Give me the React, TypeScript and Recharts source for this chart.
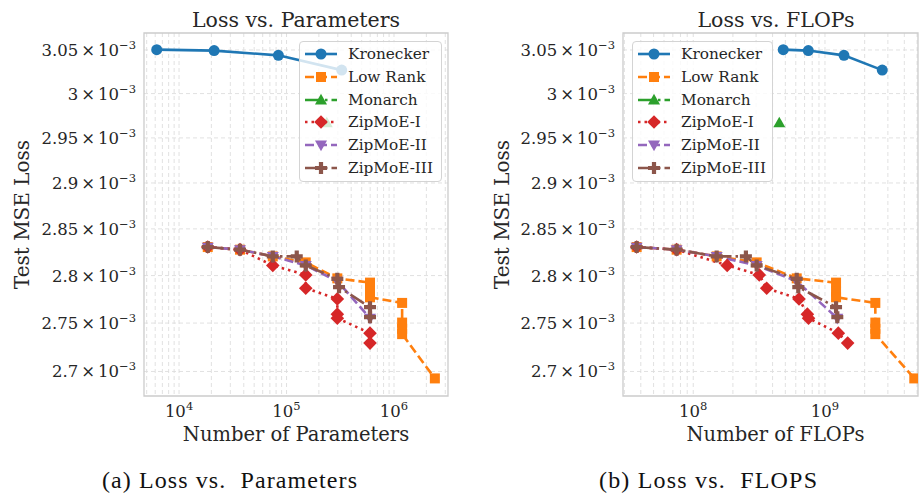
import React from 'react'
import { LineChart, Line, XAxis, YAxis, CartesianGrid, ReferenceArea, Label } from 'recharts'

// values (loss in absolute units, x in params / FLOPs)
const kroneckerParams = [6.2e3, 2.12e4, 8.4e4, 3.26e5]
const kroneckerFlops = [4.82e8, 7.47e8, 1.393e9, 2.72e9]
const kroneckerLoss = [3.0504e-3, 3.0493e-3, 3.0438e-3, 3.0268e-3]

const lowRankParams = [1.85e4, 3.69e4, 7.45e4, 1.51e5, 2.97e5, 5.98e5, 5.98e5, 5.98e5, 1.19e6, 1.19e6, 1.19e6, 1.19e6, 2.4e6]
const lowRankFlops = [3.72e7, 7.48e7, 1.506e8, 3.03e8, 6.1e8, 1.213e9, 1.213e9, 1.213e9, 2.41e9, 2.41e9, 2.41e9, 2.41e9, 4.76e9]
const lowRankLoss = [2.8304e-3, 2.8276e-3, 2.8204e-3, 2.814e-3, 2.797e-3, 2.7925e-3, 2.783e-3, 2.777e-3, 2.7711e-3, 2.7505e-3, 2.744e-3, 2.7385e-3, 2.6929e-3]

const monarchParams = [2.37e5]
const monarchFlops = [4.5e8]
const monarchLoss = [2.9668e-3]

const zipOneParams = [1.85e4, 3.69e4, 7.45e4, 1.51e5, 1.51e5, 2.97e5, 2.97e5, 2.97e5, 5.98e5, 5.98e5]
const zipOneFlops = [3.72e7, 7.48e7, 1.81e8, 3.17e8, 3.61e8, 6.35e8, 7.35e8, 7.5e8, 1.262e9, 1.486e9]
const zipOneLoss = [2.8304e-3, 2.8276e-3, 2.8108e-3, 2.8007e-3, 2.7866e-3, 2.7753e-3, 2.7593e-3, 2.7551e-3, 2.7395e-3, 2.7292e-3]

const zipTwoParams = [1.85e4, 3.69e4, 7.45e4, 1.51e5, 2.97e5, 5.98e5]
const zipTwoFlops = [3.72e7, 7.48e7, 1.506e8, 3.03e8, 6.1e8, 1.24e9]
const zipTwoLoss = [2.8304e-3, 2.8276e-3, 2.8204e-3, 2.8108e-3, 2.794e-3, 2.7551e-3]

const zipThreeParams = [1.85e4, 3.69e4, 7.45e4, 1.245e5, 1.51e5, 2.97e5, 3.08e5, 5.98e5, 5.98e5]
const zipThreeFlops = [3.72e7, 7.48e7, 1.506e8, 2.51e8, 3.03e8, 6.1e8, 6.27e8, 1.213e9, 1.24e9]
const zipThreeLoss = [2.8304e-3, 2.8276e-3, 2.8204e-3, 2.8204e-3, 2.8108e-3, 2.7965e-3, 2.7877e-3, 2.7666e-3, 2.7562e-3]

const lossTicks = [2.7e-3, 2.75e-3, 2.8e-3, 2.85e-3, 2.9e-3, 2.95e-3, 3e-3, 3.05e-3]
const paramTicks = [1e4, 1e5, 1e6]
const flopTicks = [1e8, 1e9]
const lossDomain = [2.675e-3, 3.0697e-3]
const paramDomain = [4.72e3, 3.18e6]
const flopDomain = [2.93e7, 5.08e9]

const TEXT = '#262626'
const FONT = "'DejaVu Serif', serif"

type MarkerKind = 'circle' | 'square' | 'up' | 'diamond' | 'down' | 'plus'

const series = [
  { name: 'Kronecker', color: '#1f77b4', dash: undefined, marker: 'circle', params: kroneckerParams, flops: kroneckerFlops, loss: kroneckerLoss },
  { name: 'Low Rank', color: '#ff7f0e', dash: '9 4', marker: 'square', params: lowRankParams, flops: lowRankFlops, loss: lowRankLoss },
  { name: 'Monarch', color: '#2ca02c', dash: '16 4 2.5 4', marker: 'up', params: monarchParams, flops: monarchFlops, loss: monarchLoss },
  { name: 'ZipMoE-I', color: '#d62728', dash: '2.5 4', marker: 'diamond', params: zipOneParams, flops: zipOneFlops, loss: zipOneLoss },
  { name: 'ZipMoE-II', color: '#9467bd', dash: '9 4', marker: 'down', params: zipTwoParams, flops: zipTwoFlops, loss: zipTwoLoss },
  { name: 'ZipMoE-III', color: '#8c564b', dash: '16 4 2.5 4', marker: 'plus', params: zipThreeParams, flops: zipThreeFlops, loss: zipThreeLoss },
] as const

function logGrid(domain: number[]) {
  const out: number[] = []
  for (let e = Math.floor(Math.log10(domain[0])); e <= Math.ceil(Math.log10(domain[1])); e++) {
    for (let k = 1; k < 10; k++) {
      const v = k * Math.pow(10, e)
      if (v >= domain[0] && v <= domain[1]) out.push(v)
    }
  }
  return out
}

function MarkerShape({ kind, cx, cy, color }: { kind: MarkerKind; cx: number; cy: number; color: string }) {
  if (cx == null || cy == null) return null
  switch (kind) {
    case 'circle':
      return <circle cx={cx} cy={cy} r={5.5} fill={color} />
    case 'square':
      return <rect x={cx - 5} y={cy - 5} width={10} height={10} fill={color} />
    case 'up':
      return <polygon points={`${cx},${cy - 6.3} ${cx + 6},${cy + 4.4} ${cx - 6},${cy + 4.4}`} fill={color} />
    case 'down':
      return <polygon points={`${cx},${cy + 6.3} ${cx + 6},${cy - 4.4} ${cx - 6},${cy - 4.4}`} fill={color} />
    case 'diamond':
      return <polygon points={`${cx},${cy - 6.8} ${cx + 6.8},${cy} ${cx},${cy + 6.8} ${cx - 6.8},${cy}`} fill={color} />
    default: {
      const a = 2.1, b = 6
      const pts = [
        [-a, -b], [a, -b], [a, -a], [b, -a], [b, a], [a, a], [a, b], [-a, b], [-a, a], [-b, a], [-b, -a], [-a, -a],
      ].map(([dx, dy]) => `${cx + dx},${cy + dy}`).join(' ')
      return <polygon points={pts} fill={color} />
    }
  }
}

function PowerTick(props: any) {
  const { x, y, payload } = props
  const exp = Math.round(Math.log10(payload.value))
  return (
    <text x={x} y={y + 13} textAnchor="middle" fill={TEXT} fontSize={16.5} fontFamily={FONT}>
      10<tspan dy={-7} fontSize={11.5}>{exp}</tspan>
    </text>
  )
}

function LossTick(props: any) {
  const { x, y, payload } = props
  const m = +(payload.value * 1e3).toFixed(2)
  return (
    <text x={x} y={y + 6} textAnchor="end" fill={TEXT} fontSize={16.5} fontFamily={FONT}>
      {m}
      <tspan dx={3}>×</tspan>
      <tspan dx={3}>10</tspan>
      <tspan dy={-7} fontSize={11.5}>−3</tspan>
    </text>
  )
}

function Panel({ xKey, xDomain, xTicks, xLabel, width, yWidth, right, labelDx }: any) {
  const grid = logGrid(xDomain)
  return (
    <LineChart width={width} height={496} margin={{ top: 33, right, bottom: 40, left: 0 }}>
      <CartesianGrid stroke="#dedede" strokeDasharray="4 3" strokeWidth={0.9} verticalValues={grid} horizontalValues={lossTicks} />
      <XAxis
        type="number"
        dataKey="x"
        scale="log"
        domain={xDomain}
        allowDataOverflow
        ticks={xTicks}
        interval={0}
        tick={(p: any) => <PowerTick {...p} />}
        tickLine={false}
        axisLine={false}
        height={60}
      >
        <Label value={xLabel} position="insideBottom" offset={15} dx={labelDx} fill={TEXT} fontSize={19.5} fontFamily={FONT} />
      </XAxis>
      <YAxis
        type="number"
        scale="log"
        domain={lossDomain}
        allowDataOverflow
        ticks={lossTicks}
        interval={0}
        tick={(p: any) => <LossTick {...p} />}
        tickLine={false}
        axisLine={false}
        width={yWidth}
      >
        <Label value="Test MSE Loss" angle={-90} position="insideLeft" offset={22} fill={TEXT} fontSize={20} fontFamily={FONT} style={{ textAnchor: 'middle' }} />
      </YAxis>
      <ReferenceArea x1={xDomain[0]} x2={xDomain[1]} y1={lossDomain[0]} y2={lossDomain[1]} fill="none" stroke="#cccccc" strokeWidth={1.3} />
      {series.map(s => (
        <Line
          key={s.name}
          data={s.loss.map((y, i) => ({ x: (s as any)[xKey][i], y }))}
          dataKey="y"
          name={s.name}
          stroke={s.color}
          strokeWidth={2.6}
          strokeDasharray={s.dash}
          dot={(p: any) => <MarkerShape key={`${s.name}-${p.index}`} kind={s.marker as MarkerKind} cx={p.cx} cy={p.cy} color={s.color} />}
          activeDot={false}
          isAnimationActive={false}
        />
      ))}
    </LineChart>
  )
}

function LegendBox({ left, width }: { left: number; width: number }) {
  return (
    <div
      style={{
        position: 'absolute', left, top: 41, width, height: 141, boxSizing: 'border-box',
        background: 'rgba(255,255,255,0.8)', border: '1px solid #d4d4d4', borderRadius: 4, paddingTop: 1, paddingLeft: 5,
      }}
    >
      {series.map(s => (
        <div key={s.name} style={{ display: 'flex', alignItems: 'center', height: 22.7 }}>
          <svg width={32} height={16}>
            <line x1={0} x2={32} y1={8} y2={8} stroke={s.color} strokeWidth={2.6} strokeDasharray={s.dash} />
            <MarkerShape kind={s.marker as MarkerKind} cx={16} cy={8} color={s.color} />
          </svg>
          <span style={{ marginLeft: 11, fontFamily: FONT, fontSize: 15.3, color: TEXT, whiteSpace: 'nowrap' }}>{s.name}</span>
        </div>
      ))}
    </div>
  )
}

export default function App() {
  return (
    <div style={{ position: 'absolute', left: 0, top: 0, width: 919, height: 496, background: '#fff', overflow: 'hidden' }}>
      <div style={{ position: 'absolute', left: 0, top: 0 }}>
        <Panel xKey="params" xDomain={paramDomain} xTicks={paramTicks} xLabel="Number of Parameters" width={460} yWidth={144} right={12} labelDx={0} />
      </div>
      <div style={{ position: 'absolute', left: 480, top: 0 }}>
        <Panel xKey="flops" xDomain={flopDomain} xTicks={flopTicks} xLabel="Number of FLOPs" width={439} yWidth={143} right={1} labelDx={5} />
      </div>
      <svg width={919} height={496} style={{ position: 'absolute', left: 0, top: 0, pointerEvents: 'none' }}>
        <text x={296} y={26.5} textAnchor="middle" fill={TEXT} fontSize={20.5} fontFamily={FONT}>Loss vs. Parameters</text>
        <text x={776} y={26.5} textAnchor="middle" fill={TEXT} fontSize={20.5} fontFamily={FONT}>Loss vs. FLOPs</text>
        <text x={102} y={488} fill="#111" fontSize={24} fontFamily="'Liberation Serif', serif" textLength={255} lengthAdjust="spacing" style={{ whiteSpace: 'pre' }}>(a) Loss vs.  Parameters</text>
        <text x={599} y={488} fill="#111" fontSize={24} fontFamily="'Liberation Serif', serif" textLength={218} lengthAdjust="spacing" style={{ whiteSpace: 'pre' }}>(b) Loss vs.  FLOPS</text>
      </svg>
      <LegendBox left={299} width={143} />
      <LegendBox left={632} width={141} />
    </div>
  )
}
